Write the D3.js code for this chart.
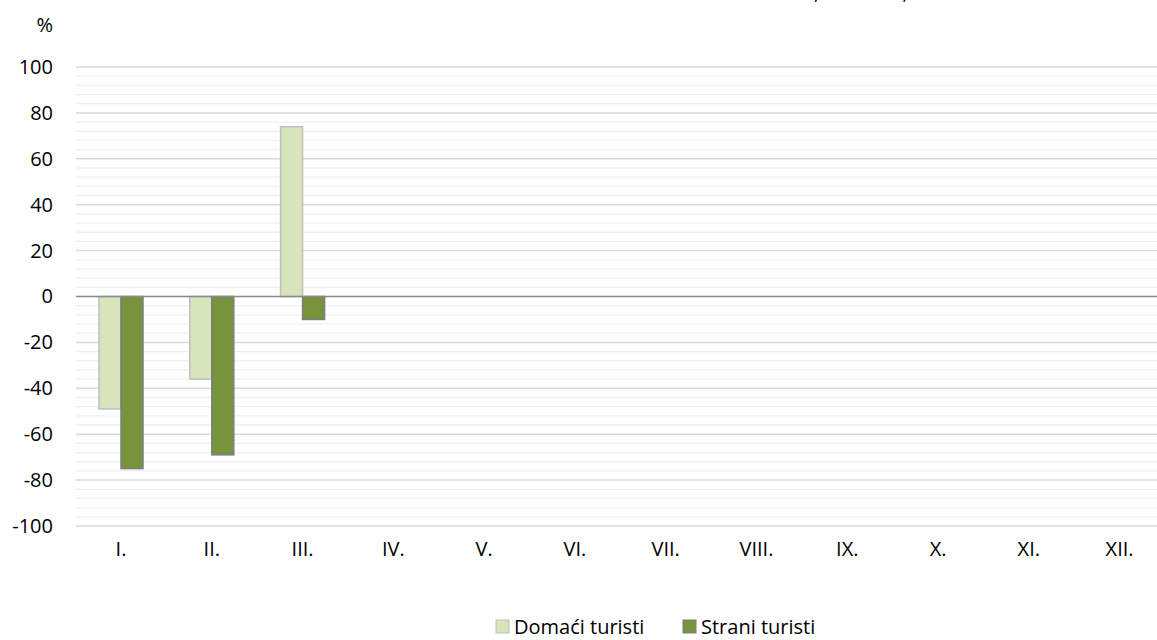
<!DOCTYPE html>
<html>
<head>
<meta charset="utf-8">
<script src="https://cdn.jsdelivr.net/npm/d3@7"></script>
<style>
  body { margin: 0; background: #fff; }
  svg { display: block; font-family: "Open Sans", sans-serif; }
</style>
</head>
<body>
<svg></svg>
<script>
var w = 1157;
var h = 640;

var months = ["I.", "II.", "III.", "IV.", "V.", "VI.", "VII.", "VIII.", "IX.", "X.", "XI.", "XII."];
var seriesNames = ["Domaći turisti", "Strani turisti"];
var domaci = [-49, -36, 74, null, null, null, null, null, null, null, null, null];
var strani = [-75, -69, -10, null, null, null, null, null, null, null, null, null];
var yTicks = [-100, -80, -60, -40, -20, 0, 20, 40, 60, 80, 100];

const colors = ["#d8e4bc", "#77933c"];
const strokes = ["#bfbfbf", "#7f7f7f"];
const fontSize = 20;

var svg = d3.select("svg").attr("width", w).attr("height", h);

var y = d3.scaleLinear().domain([-100, 100]).range([526, 67]);
var x0 = d3
  .scaleBand()
  .domain(months)
  .range([75.6, 1165])
  .paddingInner(0.515)
  .paddingOuter(0.2575);
var x1 = d3.scaleBand().domain([0, 1]).range([0, x0.bandwidth()]);

// title is cut off by the top edge, only the commas show
var title = svg
  .append("text")
  .attr("y", -1)
  .attr("font-size", fontSize)
  .attr("fill", "#000")
  .text("Dolasci turista, III. 2020., u odnosu na 2019.");
var commaAt = title.node().getSubStringLength(0, title.text().indexOf(","));
title.attr("x", 814 - commaAt);

// minor grid
svg
  .append("g")
  .selectAll("line")
  .data(d3.range(-100, 101, 4).filter((v) => v % 20 !== 0))
  .enter()
  .append("line")
  .attr("x1", 76)
  .attr("x2", w)
  .attr("y1", (d) => y(d))
  .attr("y2", (d) => y(d))
  .style("stroke", "#f0f0f0")
  .style("stroke-width", 1.3);

// major grid
svg
  .append("g")
  .selectAll("line")
  .data(yTicks.filter((v) => v !== 0))
  .enter()
  .append("line")
  .attr("x1", 76)
  .attr("x2", w)
  .attr("y1", (d) => y(d))
  .attr("y2", (d) => y(d))
  .style("stroke", "#d9d9d9")
  .style("stroke-width", 1.5);

// y labels
var yAxis = svg
  .append("g")
  .attr("transform", "translate(53,0)")
  .call(
    d3
      .axisLeft(y)
      .tickValues(yTicks)
      .tickSize(0)
      .tickPadding(0)
      .tickFormat((d) => String(d))
  );
yAxis.select(".domain").remove();
yAxis
  .selectAll("text")
  .attr("font-size", fontSize)
  .attr("fill", "#000")
  .attr("font-family", "Open Sans");

svg
  .append("text")
  .attr("x", 53)
  .attr("y", 32)
  .attr("text-anchor", "end")
  .attr("font-size", fontSize)
  .text("%");

// bars
[domaci, strani].forEach((vals, s) => {
  svg
    .append("g")
    .selectAll("rect")
    .data(vals.map((v, i) => ({ m: months[i], v: v })).filter((d) => d.v !== null))
    .enter()
    .append("rect")
    .attr("x", (d) => x0(d.m) + x1(s))
    .attr("width", x1.bandwidth())
    .attr("y", (d) => y(Math.max(0, d.v)))
    .attr("height", (d) => Math.abs(y(d.v) - y(0)))
    .style("fill", colors[s])
    .style("stroke", strokes[s])
    .style("stroke-width", 1.5);
});

// zero line
svg
  .append("line")
  .attr("x1", 76)
  .attr("x2", w)
  .attr("y1", y(0))
  .attr("y2", y(0))
  .style("stroke", "#898989")
  .style("stroke-width", 1.5);

// x labels
var xAxis = svg
  .append("g")
  .attr("transform", "translate(0,542)")
  .call(d3.axisBottom(x0).tickSize(0).tickPadding(0));
xAxis.select(".domain").remove();
xAxis
  .selectAll("text")
  .attr("font-size", fontSize)
  .attr("fill", "#000")
  .attr("font-family", "Open Sans");

// legend
var legendX = [496, 683];
var legend = svg
  .append("g")
  .selectAll("g")
  .data(seriesNames)
  .enter()
  .append("g")
  .attr("transform", (d, i) => "translate(" + legendX[i] + ",620)");

legend
  .append("rect")
  .attr("width", 13)
  .attr("height", 13)
  .style("fill", (d, i) => colors[i])
  .style("stroke", (d, i) => strokes[i])
  .style("stroke-width", 1);

legend
  .append("text")
  .attr("x", 18)
  .attr("y", 14)
  .attr("font-size", fontSize)
  .text((d) => d);
</script>
</body>
</html>
